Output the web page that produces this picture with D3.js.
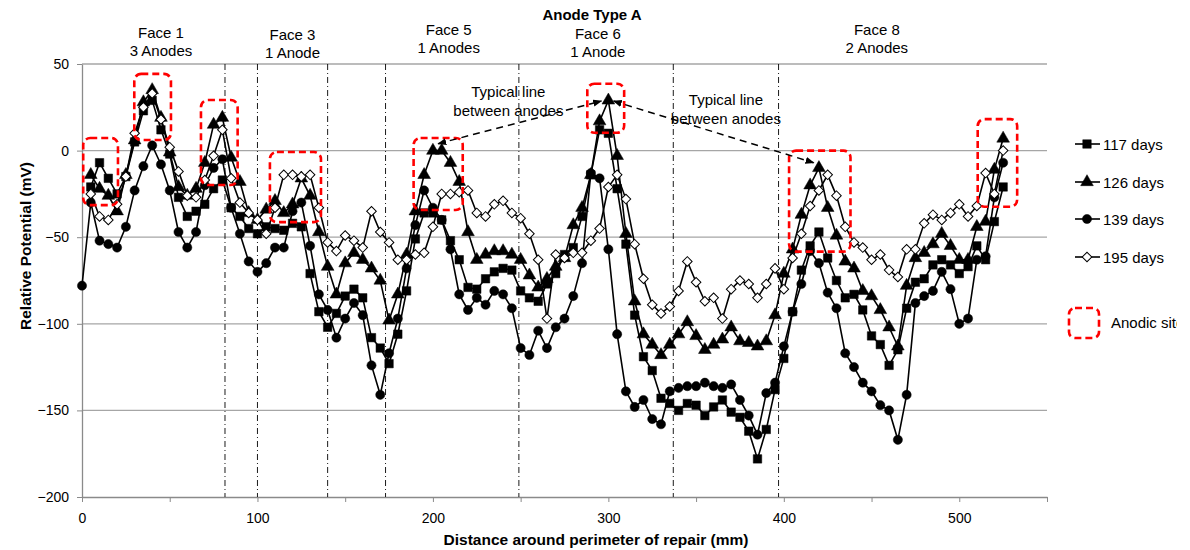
<!DOCTYPE html>
<html><head><meta charset="utf-8">
<script src="https://cdn.jsdelivr.net/npm/d3@7"></script>
<style>
body{margin:0;background:#fff;}
svg{display:block;font-family:"Liberation Sans",Arial,sans-serif;}
</style></head>
<body>
<svg id="c" width="1190" height="550"></svg>
<script>
// ---------- data ----------
const step = 5; // mm between readings
const xStart117 = 5, xStart126 = 5, xStart139 = 0, xStart195 = 5;
const days117 = [-21,-7,-16,-25,-15,5,23,29,12,-2,-27,-38,-35,-31,-22,-17,-33,-38,-45,-48,-44,-45,-46,-42,-44,-71,-93,-102,-94,-84,-80,-85,-108,-114,-123,-106,-81,-51,-36,-36,-40,-52,-63,-79,-80,-74,-70,-68,-69,-81,-85,-87,-77,-71,-60,-56,-38,-14,12,10,-22,-54,-95,-119,-127,-143,-146,-150,-146,-147,-153,-148,-144,-151,-154,-162,-178,-161,-138,-120,-93,-69,-55,-47,-62,-75,-85,-83,-92,-107,-112,-124,-115,-91,-76,-74,-66,-63,-66,-71,-67,-55,-63,-41,-21];
const days126 = [-14,-22,-26,-35,-14,6,28,35,19,-1,-21,-26,-22,-7,15,19,-4,-18,-36,-40,-34,-29,-36,-31,-16,-26,-47,-67,-83,-65,-59,-63,-68,-75,-98,-83,-60,-35,-14,0,0,-7,-18,-47,-63,-60,-58,-58,-60,-63,-72,-79,-74,-67,-62,-43,-33,-14,17,29,-3,-48,-87,-106,-112,-118,-112,-106,-99,-107,-115,-112,-109,-102,-110,-111,-113,-110,-95,-71,-57,-37,-20,-10,-33,-49,-64,-68,-81,-84,-92,-102,-113,-78,-62,-59,-54,-48,-55,-63,-63,-44,-41,-11,7];
const days139 = [-78,-30,-52,-54,-56,-44,-23,-9,3,-8,-23,-47,-56,-47,-20,-10,-5,-33,-48,-64,-70,-65,-56,-56,-35,-30,-55,-83,-92,-108,-97,-88,-95,-124,-141,-117,-97,-68,-43,-23,-33,-40,-57,-83,-92,-85,-89,-81,-83,-91,-114,-118,-104,-114,-102,-97,-84,-65,-13,-16,-57,-106,-139,-148,-144,-155,-158,-139,-137,-136,-136,-134,-136,-137,-135,-144,-153,-164,-140,-134,-113,-93,-77,-58,-65,-82,-91,-117,-125,-134,-139,-147,-150,-167,-141,-88,-84,-81,-70,-80,-100,-97,-63,-61,-27,-7];
const days195 = [-25,-38,-40,-31,-15,10,25,33,18,2,-12,-26,-27,-17,-3,12,-16,-30,-36,-40,-48,-33,-14,-14,-15,-14,-33,-53,-58,-49,-52,-56,-35,-47,-53,-63,-63,-60,-59,-44,-25,-25,-24,-23,-36,-38,-31,-29,-36,-39,-48,-63,-97,-60,-62,-59,-59,-52,-45,-21,-14,-28,-54,-74,-89,-94,-90,-81,-64,-76,-87,-85,-97,-80,-75,-77,-85,-77,-68,-80,-62,-48,-32,-23,-14,-26,-44,-53,-56,-63,-60,-69,-73,-57,-57,-42,-37,-40,-36,-31,-38,-32,-13,-25,0];
const seriesNames = ["117 days","126 days","139 days","195 days"];
const xTicks = [0,50,100,150,200,250,300,350,400,450,500,550];
const xTickLabels = [0,100,200,300,400,500];
const yTicks = [50,0,-50,-100,-150,-200];
const faceBoundaries = [81.5,100,140,173,249,337,397];
const faceLabels = [["Face 1","3 Anodes"],["Face 3","1 Anode"],["Face 5","1 Anodes"],["Face 6","1 Anode"],["Face 8","2 Anodes"]];
const faceLabelX = [45,120,209,294,453];
// anodic sites: [x0,x1] mm, [yTop,yBottom] mV
const anodicX = [[0.7,20.5],[29.8,50.7],[67.8,88.7],[107.1,136.2],[189,217],[288,309],[403,438],[510.5,533]];
const anodicY = [[7.3,-31.5],[44.3,6.1],[29.2,-19.9],[-0.8,-41.3],[7.3,-34.3],[38.6,10.3],[0,-58.3],[18.2,-32.4]];
// typical lines between anodes: [x1,y1,x2,y2]
const typicalLines = [[203,4,296,28.6],[303,28.6,417,-7]];
const typicalLabelPos = [[243,30.7],[367,26.3]];

// ---------- chart ----------
const svg = d3.select("#c");
const x = d3.scaleLinear().domain([0,550]).range([82,1047]);
const y = d3.scaleLinear().domain([-200,50]).range([497,64]);
const gridCol = "#a6a6a6";
const FONT = "Liberation Sans, Arial, sans-serif";

svg.append("defs").append("clipPath").attr("id","pageclip")
  .append("rect").attr("x",0).attr("y",0).attr("width",1177).attr("height",550);
const root = svg.append("g").attr("clip-path","url(#pageclip)");

// gridlines
root.append("g").selectAll("line").data(yTicks.filter(v=>v>-200)).join("line")
  .attr("x1",x(0)).attr("x2",x(550)).attr("y1",d=>y(d)).attr("y2",d=>y(d))
  .attr("stroke",gridCol).attr("stroke-width",1.3);

// y axis
const yAxis = root.append("g").attr("transform",`translate(${x(0)},0)`)
  .call(d3.axisLeft(y).tickValues(yTicks).tickSize(5).tickSizeOuter(0));
yAxis.select(".domain").attr("stroke","#8a8a8a").attr("stroke-width",1.3);
yAxis.selectAll(".tick line").attr("stroke","#8a8a8a");
yAxis.selectAll("text").attr("font-size",14).attr("fill","#000").attr("x",-13)
  .attr("font-family",FONT);

// x axis
const xAxis = root.append("g").attr("transform",`translate(0,${y(-200)})`)
  .call(d3.axisBottom(x).tickValues(xTicks).tickSize(5).tickSizeOuter(0)
    .tickFormat(d=>xTickLabels.includes(d)?d:""));
xAxis.select(".domain").attr("stroke","#8a8a8a").attr("stroke-width",1.3);
xAxis.selectAll(".tick line").attr("stroke","#8a8a8a");
xAxis.selectAll("text").attr("font-size",14).attr("fill","#000").attr("y",16)
  .attr("font-family",FONT);

// face boundaries
root.append("g").selectAll("line").data(faceBoundaries).join("line")
  .attr("x1",d=>x(d)).attr("x2",d=>x(d)).attr("y1",y(50)).attr("y2",y(-200))
  .attr("stroke","#000").attr("stroke-width",0.9).attr("stroke-dasharray","6,3,1,3");

// series
const series = [
  {name:seriesNames[0], vals:days117, x0:xStart117, sym:"square"},
  {name:seriesNames[1], vals:days126, x0:xStart126, sym:"triangle"},
  {name:seriesNames[2], vals:days139, x0:xStart139, sym:"circle"},
  {name:seriesNames[3], vals:days195, x0:xStart195, sym:"diamond"}
];
function symPath(s){
  if(s==="square") return d3.symbol(d3.symbolSquare,72)();
  if(s==="triangle") return d3.symbol(d3.symbolTriangle,70)();
  if(s==="circle") return d3.symbol(d3.symbolCircle,66)();
  return d3.symbol(d3.symbolSquare,46)();
}
const line = d3.line().x(d=>x(d[0])).y(d=>y(d[1]));
series.forEach(s=>{
  const pts = s.vals.map((v,i)=>[s.x0+i*step,v]);
  s.pts = pts;
  root.append("path").datum(pts).attr("d",line).attr("fill","none")
    .attr("stroke","#000").attr("stroke-width",1.6);
});
series.forEach(s=>{
  const p = symPath(s.sym);
  root.append("g").selectAll("path").data(s.pts).join("path")
    .attr("d",p)
    .attr("transform",d=>`translate(${x(d[0])},${y(d[1])})${s.sym==="diamond"?" rotate(45)":""}`)
    .attr("fill",s.sym==="diamond"?"#fff":"#000")
    .attr("stroke","#000").attr("stroke-width",s.sym==="diamond"?1:0.5);
});

// anodic boxes
root.append("g").selectAll("rect").data(anodicX).join("rect")
  .attr("x",(d)=>x(d[0])).attr("width",d=>x(d[1])-x(d[0]))
  .attr("y",(d,i)=>y(anodicY[i][0])).attr("height",(d,i)=>y(anodicY[i][1])-y(anodicY[i][0]))
  .attr("rx",7).attr("fill","none").attr("stroke","#ff0000").attr("stroke-width",2.6)
  .attr("stroke-dasharray","7,4");

// typical lines
const defs = svg.select("defs");
defs.append("marker").attr("id","ah").attr("viewBox","0 0 10 10").attr("refX",9).attr("refY",5)
  .attr("markerWidth",9).attr("markerHeight",9).attr("orient","auto-start-reverse")
  .attr("markerUnits","userSpaceOnUse")
  .append("path").attr("d","M0,1 L10,5 L0,9 Z").attr("fill","#000");
root.append("g").selectAll("line").data(typicalLines).join("line")
  .attr("x1",d=>x(d[0])).attr("y1",d=>y(d[1])).attr("x2",d=>x(d[2])).attr("y2",d=>y(d[3]))
  .attr("stroke","#000").attr("stroke-width",1.5).attr("stroke-dasharray","7,5")
  .attr("marker-start","url(#ah)").attr("marker-end","url(#ah)");
const tl = root.append("g").selectAll("text").data(typicalLabelPos).join("text")
  .attr("x",d=>x(d[0])).attr("y",d=>y(d[1])).attr("text-anchor","middle")
  .attr("font-size",15).attr("fill","#000");
tl.append("tspan").attr("x",d=>x(d[0])).attr("dy",0).text("Typical line");
tl.append("tspan").attr("x",d=>x(d[0])).attr("dy",18.5).text("between anodes");

// face labels
const fl = root.append("g").selectAll("text").data(faceLabels).join("text")
  .attr("text-anchor","middle").attr("font-size",15).attr("fill","#000");
const faceY = [38,40,35,39,35];
fl.append("tspan").attr("x",(d,i)=>x(faceLabelX[i])).attr("y",(d,i)=>faceY[i]).text(d=>d[0]);
fl.append("tspan").attr("x",(d,i)=>x(faceLabelX[i])).attr("dy",17.5).text(d=>d[1]);

// title
root.append("text").attr("x",592).attr("y",20).attr("text-anchor","middle")
  .attr("font-size",15).attr("font-weight","bold").text("Anode Type A");

// axis titles
root.append("text").attr("x",596).attr("y",545).attr("text-anchor","middle")
  .attr("font-size",15.5).attr("font-weight","bold").text("Distance around perimeter of repair (mm)");
root.append("text").attr("transform","translate(31,246) rotate(-90)").attr("text-anchor","middle")
  .attr("font-size",15.5).attr("font-weight","bold").text("Relative Potential (mV)");

// legend
const lg = root.append("g");
const legY = [144,182,219,257];
series.forEach((s,i)=>{
  lg.append("line").attr("x1",1075).attr("x2",1100).attr("y1",legY[i]).attr("y2",legY[i])
    .attr("stroke","#000").attr("stroke-width",1.6);
  lg.append("path").attr("d",symPath(s.sym))
    .attr("transform",`translate(1087,${legY[i]})${s.sym==="diamond"?" rotate(45)":""}`)
    .attr("fill",s.sym==="diamond"?"#fff":"#000").attr("stroke","#000").attr("stroke-width",s.sym==="diamond"?1:0.5);
  lg.append("text").attr("x",1103).attr("y",legY[i]+6).attr("font-size",15).text(s.name);
});
lg.append("rect").attr("x",1069).attr("y",308).attr("width",30).attr("height",30).attr("rx",6)
  .attr("fill","none").attr("stroke","#ff0000").attr("stroke-width",2.6).attr("stroke-dasharray","7,4");
lg.append("text").attr("x",1111).attr("y",328).attr("font-size",15).text("Anodic site");
</script>
</body></html>
